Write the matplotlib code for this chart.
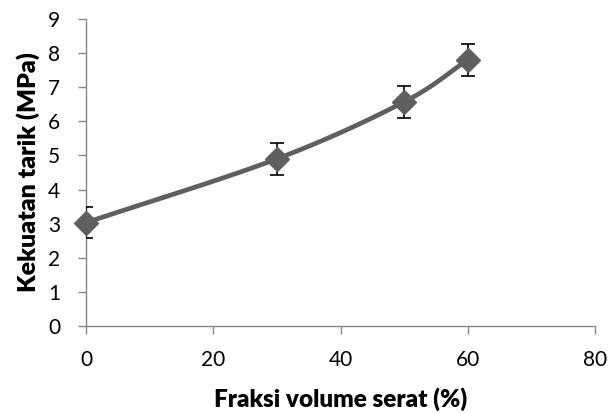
import matplotlib
matplotlib.use("Agg")
import matplotlib.pyplot as plt
import numpy as np

# data
fraksi = [0, 30, 50, 60]
kekuatan = [3.03, 4.9, 6.57, 7.8]
galat = [0.45, 0.47, 0.46, 0.46]

plt.rcParams['font.family'] = ['Lato', 'DejaVu Sans']


def kurva_halus(x, y, n=40):
    # Catmull-Rom spline, mirip garis "smoothed" di Excel
    x = np.asarray(x, float)
    y = np.asarray(y, float)
    px = np.concatenate([[2 * x[0] - x[1]], x, [2 * x[-1] - x[-2]]])
    py = np.concatenate([[2 * y[0] - y[1]], y, [2 * y[-1] - y[-2]]])
    xs, ys = [], []
    t = np.linspace(0, 1, n)
    for i in range(1, len(px) - 2):
        for p, out in ((px, xs), (py, ys)):
            p0, p1, p2, p3 = p[i - 1], p[i], p[i + 1], p[i + 2]
            out.extend(0.5 * (2 * p1 + (-p0 + p2) * t
                              + (2 * p0 - 5 * p1 + 4 * p2 - p3) * t ** 2
                              + (-p0 + 3 * p1 - 3 * p2 + p3) * t ** 3))
    return xs, ys


fig = plt.figure(figsize=(6.08, 4.13), dpi=100)
# plot area: x 86..595 px, y 19..326 px
ax = fig.add_axes([86 / 608, 87 / 413, 509 / 608, 307 / 413])

xs, ys = kurva_halus(fraksi, kekuatan)
ax.plot(xs, ys, color='#5f5f5f', lw=3.4, solid_capstyle='round', zorder=2,
        clip_on=False)
ax.errorbar(fraksi, kekuatan, yerr=galat, fmt='none', ecolor='black',
            elinewidth=1.2, capsize=5, capthick=1.2, zorder=3)
ax.plot(fraksi, kekuatan, 'D', color='#5f5f5f', ms=12.5, zorder=4, clip_on=False)

ax.set_xlim(0, 80)
ax.set_ylim(0, 9)
ax.set_xticks(range(0, 81, 20))
ax.set_yticks(range(0, 10))

for s in ['top', 'right']:
    ax.spines[s].set_visible(False)
for s in ['left', 'bottom']:
    ax.spines[s].set_color('#868686')
    ax.spines[s].set_linewidth(1.0)
ax.tick_params(direction='out', length=5.5, width=1.0, color='#868686',
               labelsize=15)
ax.tick_params(axis='x', pad=12)
ax.tick_params(axis='y', pad=13)

ax.set_xlabel('Fraksi volume serat (%)', fontsize=17.5, fontweight='heavy', labelpad=12)
ax.set_ylabel('Kekuatan tarik (MPa)', fontsize=18, fontweight='heavy', labelpad=6)

fig.savefig('out.png', dpi=100)
